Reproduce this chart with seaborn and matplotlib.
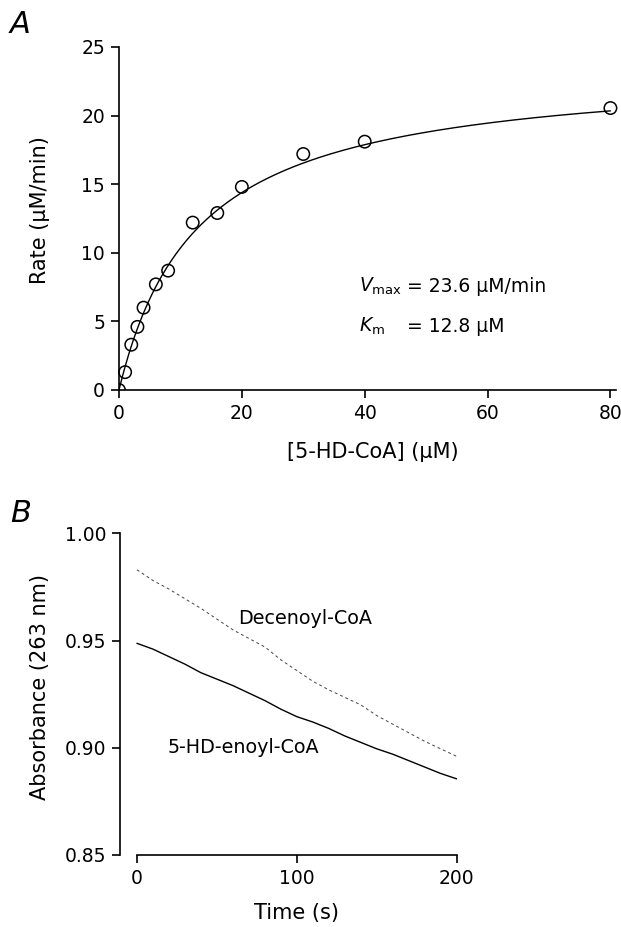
import numpy as np
import pandas as pd
import matplotlib
matplotlib.use("Agg")
import matplotlib.pyplot as plt
import seaborn as sns

sns.set_theme(style="ticks")
plt.rcParams['font.family'] = ['DejaVu Sans']
plt.rcParams['mathtext.fontset'] = 'dejavusans'
plt.rcParams['text.color'] = 'black'
plt.rcParams['axes.labelcolor'] = 'black'

# Panel A: rate vs substrate concentration
conc = [0, 1, 2, 3, 4, 6, 8, 12, 16, 20, 30, 40, 80]
rate = [0.0, 1.3, 3.3, 4.6, 6.0, 7.7, 8.7, 12.2, 12.9, 14.8, 17.2, 18.1, 20.55]
VMAX = 23.6
KM = 12.8

# Panel B: absorbance traces
time_s = [0, 10, 20, 30, 40, 50, 60, 70, 80, 90, 100,
          110, 120, 130, 140, 150, 160, 170, 180, 190, 200]
abs_decenoyl = [0.983, 0.978, 0.974, 0.9695, 0.965, 0.960, 0.955, 0.951, 0.947, 0.941, 0.936,
                0.931, 0.927, 0.9235, 0.920, 0.915, 0.911, 0.907, 0.903, 0.8995, 0.896]
abs_5hd = [0.9487, 0.946, 0.9425, 0.939, 0.935, 0.932, 0.929, 0.9255, 0.922, 0.918, 0.9145,
           0.912, 0.909, 0.9055, 0.9025, 0.8995, 0.897, 0.894, 0.891, 0.888, 0.8855]

fig = plt.figure(figsize=(6.21, 9.27), dpi=100)
axA = fig.add_axes([0.1916, 0.5793, 0.8003, 0.9493 - 0.5793])
axB = fig.add_axes([0.1932, 0.0777, 0.7354 - 0.1932, 0.4247 - 0.0777])

# fitted Michaelis-Menten curve from the reported parameters
fit_x = np.linspace(0, 80, 300)
fit = pd.DataFrame({"x": fit_x, "y": VMAX * fit_x / (KM + fit_x)})
sns.lineplot(data=fit, x="x", y="y", ax=axA, color="black", lw=1.0)
pts = pd.DataFrame({"x": conc, "y": rate})
sns.scatterplot(data=pts.iloc[:1], x="x", y="y", ax=axA, s=80, facecolor="none",
                edgecolor="black", linewidth=1.1, zorder=3)
sns.scatterplot(data=pts.iloc[1:], x="x", y="y", ax=axA, s=80, facecolor="none",
                edgecolor="black", linewidth=1.1, zorder=3, clip_on=False)

axA.set_xlim(0, 80.9)
axA.set_ylim(0, 25)
axA.set_xticks([0, 20, 40, 60, 80])
axA.set_yticks([0, 5, 10, 15, 20, 25])
axA.set_xlabel("[5-HD-CoA] (µM)", fontsize=15)
axA.set_ylabel("Rate (µM/min)", fontsize=15)
axA.xaxis.set_label_coords(0.511, -0.181)
axA.yaxis.set_label_coords(-0.159, 0.525)
axA.text(39.0, 7.14, r"$V_{\mathrm{max}}$", fontsize=13.5, va="baseline")
axA.text(46.9, 7.14, "= 23.6 µM/min", fontsize=13.5, va="baseline")
axA.text(39.0, 4.23, r"$K_{\mathrm{m}}$", fontsize=13.5, va="baseline")
axA.text(46.9, 4.23, "= 12.8 µM", fontsize=13.5, va="baseline")

tr = pd.DataFrame({"t": time_s, "dec": abs_decenoyl, "hd": abs_5hd})
sns.lineplot(data=tr, x="t", y="dec", ax=axB, color="#444444", lw=0.7,
             linestyle=(0, (3, 3)))
sns.lineplot(data=tr, x="t", y="hd", ax=axB, color="black", lw=1.0)
axB.set_xlim(-10.6, 200)
axB.set_ylim(0.85, 1.00)
axB.set_xticks([0, 100, 200])
axB.set_yticks([0.85, 0.90, 0.95, 1.00])
axB.set_yticklabels(["0.85", "0.90", "0.95", "1.00"])
axB.spines['bottom'].set_bounds(0, 200)
axB.set_xlabel("Time (s)", fontsize=15)
axB.set_ylabel("Absorbance (263 nm)", fontsize=15)
axB.xaxis.set_label_coords(0.523, -0.180)
axB.yaxis.set_label_coords(-0.2376, 0.523)
axB.text(63.3, 0.9605, "Decenoyl-CoA", fontsize=13.8, va="center")
axB.text(18.9, 0.9003, "5-HD-enoyl-CoA", fontsize=13.8, va="center")

for ax in (axA, axB):
    sns.despine(ax=ax)
    ax.xaxis.label.set(va="center", ha="center")
    ax.yaxis.label.set(va="center", ha="center", rotation_mode="default")
    ax.spines['left'].set_linewidth(1.2)
    ax.spines['bottom'].set_linewidth(1.2)
    ax.spines['left'].set_color("black")
    ax.spines['bottom'].set_color("black")
    ax.tick_params(axis="both", direction="out", length=6, width=1.2,
                   color="black", labelsize=13.5, labelcolor="black", pad=4)

fig.text(0.016, 0.974, "A", fontsize=22, style="italic", va="center")
fig.text(0.016, 0.4466, "B", fontsize=22, style="italic", va="center")

fig.savefig("out.png", dpi=100)
